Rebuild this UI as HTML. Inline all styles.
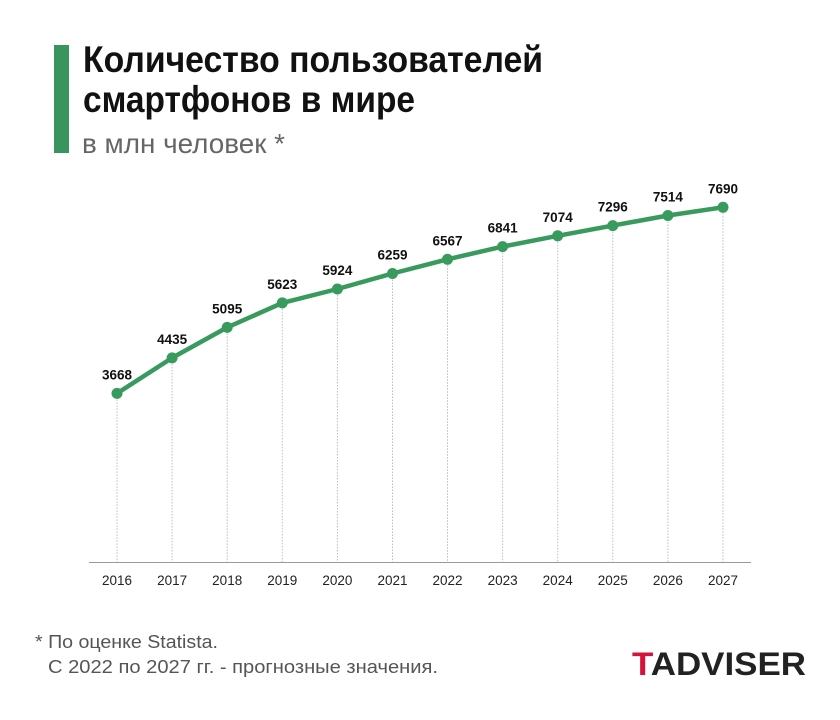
<!DOCTYPE html>
<html>
<head>
<meta charset="utf-8">
<style>
  html, body { margin: 0; padding: 0; background: #ffffff; }
  svg { display: block; }
  text { font-family: "Liberation Sans", "DejaVu Sans", sans-serif; }
</style>
</head>
<body>
<svg width="840" height="720" viewBox="0 0 840 720" xmlns="http://www.w3.org/2000/svg">
  <rect x="0" y="0" width="840" height="720" fill="#ffffff"/>

  <!-- green accent bar -->
  <rect x="54" y="45" width="15" height="108" fill="#38955e"/>

  <!-- title -->
  <text x="83" y="72" font-size="37" font-weight="bold" fill="#111" textLength="460" lengthAdjust="spacingAndGlyphs">Количество пользователей</text>
  <text x="83" y="112" font-size="37" font-weight="bold" fill="#111" textLength="332" lengthAdjust="spacingAndGlyphs">смартфонов в мире</text>
  <text x="82" y="153" font-size="28" fill="#666" textLength="203" lengthAdjust="spacingAndGlyphs">в млн человек *</text>

  <!-- axis -->
  <line x1="89" y1="562.5" x2="751" y2="562.5" stroke="#999" stroke-width="1"/>

  <!-- dotted drop lines -->
  <g stroke="#bdbdbd" stroke-width="1" stroke-dasharray="1.5 1.5">
    <line x1="117" y1="393.4" x2="117" y2="562"/>
    <line x1="172.1" y1="357.9" x2="172.1" y2="562"/>
    <line x1="227.2" y1="327.4" x2="227.2" y2="562"/>
    <line x1="282.3" y1="302.9" x2="282.3" y2="562"/>
    <line x1="337.4" y1="289" x2="337.4" y2="562"/>
    <line x1="392.5" y1="273.5" x2="392.5" y2="562"/>
    <line x1="447.5" y1="259.3" x2="447.5" y2="562"/>
    <line x1="502.6" y1="246.6" x2="502.6" y2="562"/>
    <line x1="557.7" y1="235.8" x2="557.7" y2="562"/>
    <line x1="612.8" y1="225.6" x2="612.8" y2="562"/>
    <line x1="667.9" y1="215.5" x2="667.9" y2="562"/>
    <line x1="723" y1="207.3" x2="723" y2="562"/>
  </g>

  <!-- series line -->
  <polyline fill="none" stroke="#389a5c" stroke-width="4.5" stroke-linejoin="round" stroke-linecap="round"
    points="117,393.4 172.1,357.9 227.2,327.4 282.3,302.9 337.4,289 392.5,273.5 447.5,259.3 502.6,246.6 557.7,235.8 612.8,225.6 667.9,215.5 723,207.3"/>
  <g fill="#389a5c">
    <circle cx="117" cy="393.4" r="5.5"/>
    <circle cx="172.1" cy="357.9" r="5.5"/>
    <circle cx="227.2" cy="327.4" r="5.5"/>
    <circle cx="282.3" cy="302.9" r="5.5"/>
    <circle cx="337.4" cy="289" r="5.5"/>
    <circle cx="392.5" cy="273.5" r="5.5"/>
    <circle cx="447.5" cy="259.3" r="5.5"/>
    <circle cx="502.6" cy="246.6" r="5.5"/>
    <circle cx="557.7" cy="235.8" r="5.5"/>
    <circle cx="612.8" cy="225.6" r="5.5"/>
    <circle cx="667.9" cy="215.5" r="5.5"/>
    <circle cx="723" cy="207.3" r="5.5"/>
  </g>

  <!-- value labels -->
  <g font-size="13.5" font-weight="bold" fill="#111" text-anchor="middle">
    <text x="117" y="379.4">3668</text>
    <text x="172.1" y="343.9">4435</text>
    <text x="227.2" y="313.4">5095</text>
    <text x="282.3" y="288.9">5623</text>
    <text x="337.4" y="275">5924</text>
    <text x="392.5" y="259.5">6259</text>
    <text x="447.5" y="245.3">6567</text>
    <text x="502.6" y="232.6">6841</text>
    <text x="557.7" y="221.8">7074</text>
    <text x="612.8" y="211.6">7296</text>
    <text x="667.9" y="201.5">7514</text>
    <text x="723" y="193.3">7690</text>
  </g>

  <!-- year labels -->
  <g font-size="13.5" fill="#222" text-anchor="middle">
    <text x="117" y="585">2016</text>
    <text x="172.1" y="585">2017</text>
    <text x="227.2" y="585">2018</text>
    <text x="282.3" y="585">2019</text>
    <text x="337.4" y="585">2020</text>
    <text x="392.5" y="585">2021</text>
    <text x="447.5" y="585">2022</text>
    <text x="502.6" y="585">2023</text>
    <text x="557.7" y="585">2024</text>
    <text x="612.8" y="585">2025</text>
    <text x="667.9" y="585">2026</text>
    <text x="723" y="585">2027</text>
  </g>

  <!-- footnote -->
  <text x="35" y="648" font-size="18" fill="#555" textLength="183" lengthAdjust="spacingAndGlyphs">* По оценке Statista.</text>
  <text x="48" y="673" font-size="18" fill="#555" textLength="390" lengthAdjust="spacingAndGlyphs">С 2022 по 2027 гг. - прогнозные значения.</text>

  <!-- logo -->
  <text x="632" y="675" font-size="32" font-weight="bold" fill="#222" textLength="174" lengthAdjust="spacingAndGlyphs"><tspan fill="#d5123a">T</tspan>ADVISER</text>
</svg>
</body>
</html>
